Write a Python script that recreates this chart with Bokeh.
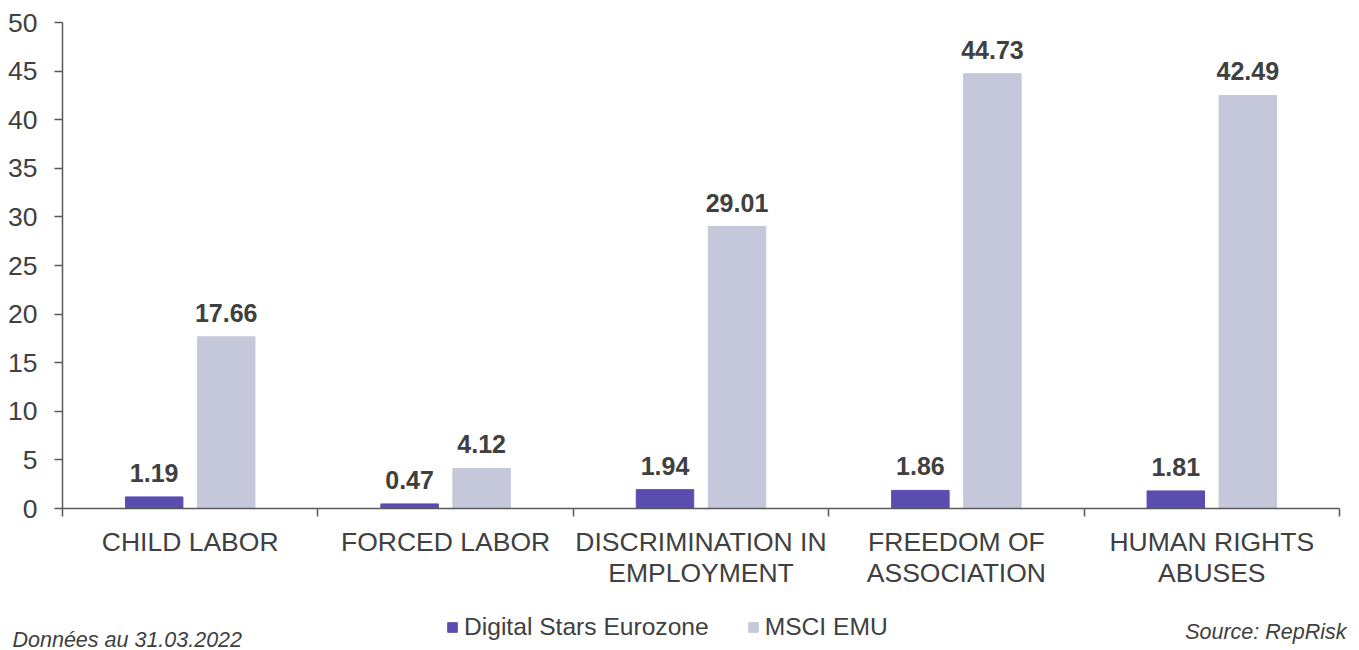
from bokeh.plotting import figure
from bokeh.layouts import column
from bokeh.models import ColumnDataSource, FixedTicker, LabelSet, Legend, LegendItem, Range1d
from bokeh.core.properties import value
from bokeh.transform import dodge
from bokeh.embed import file_html
from bokeh.resources import INLINE

categories = ["CHILD LABOR", "FORCED LABOR", "DISCRIMINATION IN\nEMPLOYMENT",
              "FREEDOM OF\nASSOCIATION", "HUMAN RIGHTS\nABUSES"]
digital_stars = [1.19, 0.47, 1.94, 1.86, 1.81]
msci_emu = [17.66, 4.12, 29.01, 44.73, 42.49]
series_names = ["Digital Stars Eurozone", "MSCI EMU"]
y_ticks = [0, 5, 10, 15, 20, 25, 30, 35, 40, 45, 50]
note_left = "Données au 31.03.2022"
note_right = "Source: RepRisk"

PURPLE = "#5B4CB0"
GRAY = "#C5C8DA"
TXT = "#404040"
AX = "#595959"
FONT = "Liberation Sans"

W = 1359

xs = [i + 0.5 for i in range(len(categories))]
src = ColumnDataSource(dict(
    x=xs, d=digital_stars, m=msci_emu,
    dl=[f"{v:.2f}" for v in digital_stars],
    ml=[f"{v:.2f}" for v in msci_emu],
))

p = figure(width=W, height=600, output_backend="svg", toolbar_location=None,
           x_range=Range1d(0, len(categories)), y_range=Range1d(0, 50),
           min_border_left=62, min_border_right=20, min_border_top=22, min_border_bottom=92)
p.outline_line_color = None
p.xgrid.visible = False
p.ygrid.visible = False

off = 0.141
w = 0.225
r1 = p.vbar(x=dodge("x", -off, range=p.x_range), top="d", width=w, source=src,
            fill_color=PURPLE, line_color=PURPLE)
r2 = p.vbar(x=dodge("x", off, range=p.x_range), top="m", width=w, source=src,
            fill_color=GRAY, line_color=GRAY)

for col, lab, o in (("d", "dl", -off), ("m", "ml", off)):
    ls = LabelSet(x=dodge("x", o, range=p.x_range), y=col, text=lab, source=src,
                  text_align="center", text_baseline="alphabetic", y_offset=15,
                  text_font=value(FONT), text_font_size=value("25px"),
                  text_font_style=value("bold"), text_color=value(TXT))
    p.add_layout(ls)

xa = p.xaxis[0]
xa.ticker = FixedTicker(ticks=xs, minor_ticks=list(range(len(categories) + 1)))
xa.major_label_overrides = {x: c for x, c in zip(xs, categories)}
xa.major_tick_out = 0
xa.major_tick_in = 0
xa.minor_tick_out = 8
xa.minor_tick_in = 0
xa.minor_tick_line_color = AX
xa.minor_tick_line_width = 1.5
xa.axis_line_color = AX
xa.axis_line_width = 1.5
xa.major_label_standoff = 10
xa.major_label_text_font = FONT
xa.major_label_text_font_size = "26.5px"
xa.major_label_text_line_height = 1.05
xa.major_label_text_color = TXT

ya = p.yaxis[0]
ya.ticker = FixedTicker(ticks=y_ticks)
ya.minor_tick_line_color = None
ya.major_tick_out = 8
ya.major_tick_in = 0
ya.major_tick_line_color = AX
ya.major_tick_line_width = 1.5
ya.axis_line_color = AX
ya.axis_line_width = 1.5
ya.major_label_standoff = 17
ya.major_label_text_font = FONT
ya.major_label_text_font_size = "26.5px"
ya.major_label_text_color = TXT

# footer strip: legend and notes
H2 = 50
p2 = figure(width=W, height=H2, output_backend="svg", toolbar_location=None,
            x_range=Range1d(0, W), y_range=Range1d(0, H2),
            min_border_left=0, min_border_right=0, min_border_top=0, min_border_bottom=0)
p2.axis.visible = False
p2.grid.visible = False
p2.outline_line_color = None
if "frame_align" in p2.properties():
    p2.frame_align = False
    p.frame_align = False

dummy = ColumnDataSource(dict(x=[-1000], top=[0]))
g1 = p2.vbar(x="x", top="top", width=1, source=dummy, fill_color=PURPLE, line_color=PURPLE)
g2 = p2.vbar(x="x", top="top", width=1, source=dummy, fill_color=GRAY, line_color=GRAY)

legend = Legend(items=[LegendItem(label=series_names[0], renderers=[g1]),
                       LegendItem(label=series_names[1], renderers=[g2])],
                orientation="horizontal", location=(446, 9),
                glyph_width=12, glyph_height=12, label_standoff=6, spacing=38,
                padding=0, margin=0, border_line_color=None, background_fill_alpha=0,
                label_text_font=FONT, label_text_font_size="24.6px", label_text_color=TXT)
p2.add_layout(legend, "center")

p2.text(x=[12], y=[11], text=[note_left], text_font=value(FONT), text_font_size="21.5px",
        text_font_style="italic", text_color=TXT, text_baseline="alphabetic",
        text_align="left")
p2.text(x=[1346], y=[18.5], text=[note_right], text_font=value(FONT), text_font_size="21.5px",
        text_font_style="italic", text_color=TXT, text_baseline="alphabetic",
        text_align="right")

layout = column(p, p2, spacing=0)
open("out.html", "w").write(file_html(layout, INLINE))
